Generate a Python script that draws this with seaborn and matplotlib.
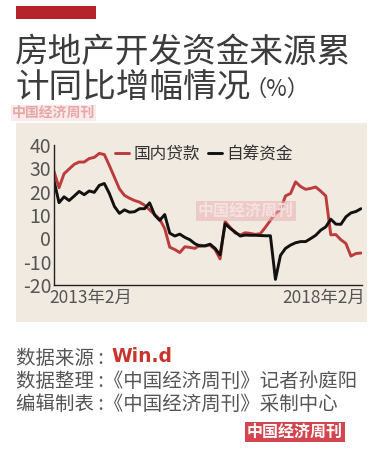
import numpy as np
import pandas as pd
import matplotlib
matplotlib.use("Agg")
import matplotlib.pyplot as plt
import matplotlib.patches as mpatches
import matplotlib.transforms as mtransforms
import seaborn as sns

# ---------------- data ----------------
years = [2013, 2014, 2015, 2016, 2017, 2018]
periods = [f"{y}-{m:02d}" for y in years for m in range(2, 13) if not (y == 2018 and m > 8)]

domestic_loans = [28.7, 21.7, 27.7, 29.7, 31.7, 32.7, 32.7, 34.2, 34.7, 36.4, 35.9,
                  31.2, 26.2, 21.2, 18.4, 17.2, 16.2, 15.5, 14.2, 12.2, 10.2, 8.2,
                  4.2, -3.8, -4.8, -6.1, -3.6, -3.9, -4.3, -2.9, -3.3, -2.9, -4.8,
                  -8.8, 7.2, 4.7, 2.3, 1.4, 2.4, 2.1, 1.7, 2.0, 4.7, 7.7,
                  10.7, 12.2, 18.2, 19.2, 24.2, 22.2, 21.0, 21.4, 22.0, 20.2, 18.2,
                  1.5, 1.6, -0.6, -2.2, -7.6, -6.5, -6.3]
self_raised = [24.6, 15.3, 17.8, 16.2, 18.1, 20.1, 18.7, 20.3, 19.7, 22.7, 23.5,
               19.2, 13.7, 10.7, 12.2, 11.2, 11.4, 12.7, 12.7, 15.2, 10.0, 7.7,
               10.2, 2.2, 1.0, 1.8, 0.4, -0.6, -2.3, -3.3, -3.2, -2.5, -4.3,
               -7.1, 6.2, 4.3, 2.7, 1.0, 1.4, 1.3, 1.3, 1.2, 1.1, 1.1,
               -17.6, -7.3, -4.3, -2.9, -1.9, -1.4, -1.4, -0.1, 1.3, 3.5, 4.9,
               8.2, 6.1, 6.0, 9.2, 10.9, 11.5, 12.7]
series_names = ["国内贷款", "自筹资金"]
series_colors = ["#bd3b3b", "#111111"]
yticks = [-20, -10, 0, 10, 20, 30, 40]
xtick_labels = {"2013-02": "2013年2月", "2018-02": "2018年2月"}

title1 = "房地产开发资金来源累"
title2 = "计同比增幅情况"
unit = "（%）"
source_lines = ["数据整理 :《中国经济周刊》记者孙庭阳", "编辑制表 :《中国经济周刊》采制中心"]
watermark = "中国经济周刊"

# ---------------- style ----------------
sns.set_style("white")
plt.rcParams['font.family'] = ['Noto Sans CJK SC', 'DejaVu Sans']
plt.rcParams['axes.unicode_minus'] = True

W, H = 386, 462
fig = plt.figure(figsize=(W / 100, H / 100), dpi=100)
fig.patch.set_facecolor("white")

def fx(px):
    return px / W

def fy(py):
    return 1 - py / H

# red bar at top
fig.add_artist(mpatches.Rectangle((fx(16), fy(19)), fx(96) - fx(16), fy(6) - fy(19),
                                  transform=fig.transFigure, color="#b5242b", lw=0))
# beige panel
fig.add_artist(mpatches.Rectangle((fx(16), fy(322)), fx(367) - fx(16), fy(123) - fy(322),
                                  transform=fig.transFigure, color="#f1eae0", lw=0, zorder=0))

txtc = "#3c3c3c"
fig.text(fx(15), fy(52), title1, fontsize=24.2, color=txtc, va="center", ha="left", fontweight="light")
fig.text(fx(15), fy(88), title2, fontsize=24.2, color=txtc, va="center", ha="left", fontweight="light")
fig.text(fx(244), fy(89), unit, fontsize=16, color=txtc, va="center", ha="left", fontweight="light")

# watermark top
fig.text(fx(12), fy(113), watermark, fontsize=10, color="#e8a6a6", va="center", ha="left",
         fontweight="bold",
         bbox=dict(facecolor="#f6dede", edgecolor="none", pad=0.5, alpha=0.6))

# ---------------- chart ----------------
ax = fig.add_axes([fx(54), fy(285), fx(362) - fx(54), fy(145) - fy(285)])
ax.set_facecolor("none")

df = pd.DataFrame({
    "idx": list(range(len(periods))) * 2,
    "value": domestic_loans + self_raised,
    "series": [series_names[0]] * len(periods) + [series_names[1]] * len(periods),
})
sns.lineplot(data=df, x="idx", y="value", hue="series", palette=series_colors,
             linewidth=2.1, ax=ax, legend=False)

ax.set_xlim(0, len(periods) - 0.8)
ax.set_ylim(-20, 40)
ax.set_yticks(yticks)
ax.set_yticklabels([str(v) for v in yticks], fontsize=14, color="#555555")
ax.tick_params(axis="y", length=0, pad=2)

feb_idx = [i for i, p in enumerate(periods) if p.endswith("-02")]
ax.set_xticks(feb_idx)
ax.set_xticklabels([xtick_labels.get(periods[i], "") for i in feb_idx], fontsize=12.5, color="#555555")
ax.tick_params(axis="x", direction="in", length=3, width=0.8, color="#666666", pad=3)
labs = ax.get_xticklabels()
labs[0].set_ha("left")
labs[0].set_transform(labs[0].get_transform() + mtransforms.ScaledTranslation(-5 / 100, 0, fig.dpi_scale_trans))
labs[-1].set_transform(labs[-1].get_transform() + mtransforms.ScaledTranslation(-7 / 100, 0, fig.dpi_scale_trans))

for s in ["top", "right"]:
    ax.spines[s].set_visible(False)
for s in ["left", "bottom"]:
    ax.spines[s].set_color("#222222")
    ax.spines[s].set_linewidth(1.0)
ax.set_xlabel("")
ax.set_ylabel("")

handles = [plt.Line2D([], [], color=c, lw=2.1) for c in series_colors]
ax.legend(handles, series_names, loc="upper left", bbox_to_anchor=(0.15, 1.1), ncol=2,
          frameon=False, fontsize=12, handlelength=0.8, handletextpad=0.3, columnspacing=0.5,
          labelcolor="#333333")

# watermark in chart
fig.text(fx(246), fy(211), watermark, fontsize=11.5, color="#f7e4e4", va="center", ha="center",
         fontweight="bold", alpha=0.9,
         bbox=dict(facecolor="#e9b3b3", edgecolor="none", pad=1.5, alpha=0.55))

# ---------------- footer ----------------
fig.text(fx(16), fy(358), "数据来源 :", fontsize=14, color="#555555", va="center", ha="left")
fig.text(fx(111), fy(357), "Win.d", fontsize=13.5, color="#c8352d", va="center", ha="left",
         fontweight="bold", family=["DejaVu Sans"])
for k, line in enumerate(source_lines):
    fig.text(fx(16), fy(381 + 23 * k), line, fontsize=14, color="#555555", va="center", ha="left")

fig.text(fx(295), fy(432), watermark, fontsize=11.5, color="white", va="center", ha="center",
         fontweight="bold", bbox=dict(facecolor="#d3454f", edgecolor="none", pad=1.5))

fig.savefig("out.png", dpi=100, facecolor="white")
